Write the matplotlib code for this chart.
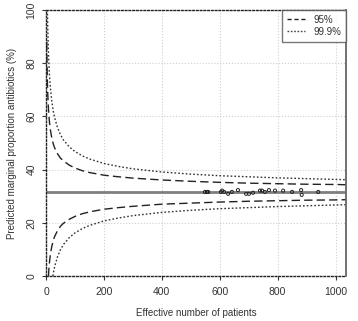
import matplotlib
matplotlib.use('Agg')
from matplotlib import pyplot as plt
from matplotlib.lines import Line2D

plt.rcParams['font.family'] = ['Liberation Sans', 'DejaVu Sans']

# funnel limits (effective n -> % antibiotics)
centre = 31.5

n_up95 = [2.6, 3, 4, 5, 6, 8, 10, 12, 15, 20, 25, 30, 40, 50, 60, 80, 100, 125, 150, 200, 250, 300, 400, 500, 600, 700, 800, 900, 1000, 1040]
up95 = [88.0, 84.1, 77.0, 72.2, 68.7, 63.7, 60.3, 57.8, 55.0, 51.9, 49.7, 48.1, 45.9, 44.3, 43.3, 41.7, 40.6, 39.6, 38.9, 37.9, 37.3, 36.8, 36.1, 35.6, 35.2, 34.9, 34.7, 34.5, 34.4, 34.3]

n_lo95 = [8.6, 10, 12, 15, 20, 25, 30, 40, 50, 60, 80, 100, 125, 150, 200, 250, 300, 400, 500, 600, 700, 800, 900, 1000, 1040]
lo95 = [0.0, 2.7, 5.2, 8.0, 11.1, 13.3, 14.9, 17.1, 18.7, 19.8, 21.3, 22.4, 23.4, 24.1, 25.1, 25.7, 26.2, 27.0, 27.4, 27.8, 28.1, 28.3, 28.5, 28.6, 28.7]

n_up999 = [4.9, 6, 8, 10, 12, 15, 20, 25, 30, 40, 50, 60, 80, 100, 125, 150, 200, 250, 300, 400, 500, 600, 700, 800, 900, 1000, 1040]
up999 = [100.0, 93.9, 85.5, 79.8, 75.6, 71.0, 65.7, 62.1, 59.4, 55.7, 53.1, 51.2, 48.6, 46.8, 45.2, 44.0, 42.3, 41.2, 40.3, 39.1, 38.3, 37.7, 37.3, 36.9, 36.6, 36.3, 36.2]

n_lo999 = [24, 25, 30, 40, 50, 60, 80, 100, 125, 150, 200, 250, 300, 400, 500, 600, 700, 800, 900, 1000, 1040]
lo999 = [0.0, 0.9, 3.6, 7.3, 9.9, 11.8, 14.4, 16.2, 17.8, 19.0, 20.7, 21.8, 22.7, 23.9, 24.7, 25.3, 25.7, 26.1, 26.4, 26.7, 26.8]

# hospitals
hosp_n = [549, 556, 560, 604, 608, 615, 629, 642, 663, 691, 701, 715, 739, 746, 756, 770, 791, 819, 850, 881, 883, 940]
hosp_p = [31.6, 31.6, 31.6, 31.6, 32.1, 31.6, 30.9, 31.6, 32.3, 30.9, 30.9, 31.3, 32.1, 32.1, 31.6, 32.3, 32.1, 32.1, 31.6, 32.3, 30.5, 31.6]

xticks = [0, 200, 400, 600, 800, 1000]
yticks = [0, 20, 40, 60, 80, 100]

fig = plt.figure(figsize=(3.58, 3.21), dpi=100)
ax = fig.add_axes([46 / 358, 45 / 321, 300 / 358, 266 / 321])

ax.grid(True, color='#cfcfcf', linestyle=':', linewidth=0.8)
ax.set_axisbelow(True)

ax.axhline(centre, color='#7f7f7f', lw=2)
ax.plot(n_up95, up95, color='#222222', ls=(0, (6, 3)), lw=1.0)
ax.plot(n_lo95, lo95, color='#222222', ls=(0, (6, 3)), lw=1.0)
ax.plot(n_up999, up999, color='#333333', ls=(0, (1.2, 1.5)), lw=1.0)
ax.plot(n_lo999, lo999, color='#333333', ls=(0, (1.2, 1.5)), lw=1.0)
ax.scatter(hosp_n, hosp_p, s=5, facecolors='none', edgecolors='#222222', linewidths=0.7, zorder=5)

ax.set_xlim(0, 1036)
ax.set_ylim(0, 100)
ax.set_xticks(xticks)
ax.set_yticks(yticks)
ax.tick_params(labelsize=7.5, length=3, width=0.8, color='#333333', labelcolor='#333333', pad=5)
ax.tick_params(axis='y', pad=4)
for lab in ax.get_yticklabels():
    lab.set_rotation(90)
    lab.set_va('center')

for s in ['left', 'top', 'bottom']:
    ax.spines[s].set_linestyle((0, (1.2, 1.5)))
    ax.spines[s].set_color('#222222')
    ax.spines[s].set_linewidth(1.0)
ax.spines['right'].set_color('#666666')
ax.spines['right'].set_linewidth(1.3)

ax.set_xlabel('Effective number of patients', fontsize=7, color='#333333', labelpad=8)
ax.set_ylabel('Predicted marginal proportion antibiotics (%)', fontsize=7, color='#333333', labelpad=7)

handles = [Line2D([], [], color='#222222', ls=(0, (3, 2)), lw=1.0),
           Line2D([], [], color='#444444', ls=(0, (1.2, 1.2)), lw=1.0)]
leg = ax.legend(handles, ['95%', '99.9%'], loc='upper right', fontsize=7, frameon=True,
                fancybox=False, borderaxespad=0, handlelength=1.8, handletextpad=0.9,
                labelspacing=0.2, borderpad=0.5)
leg.get_frame().set_edgecolor('#555555')
leg.get_frame().set_linewidth(1.0)
for t in leg.get_texts():
    t.set_color('#333333')

fig.savefig('out.png', dpi=100)
